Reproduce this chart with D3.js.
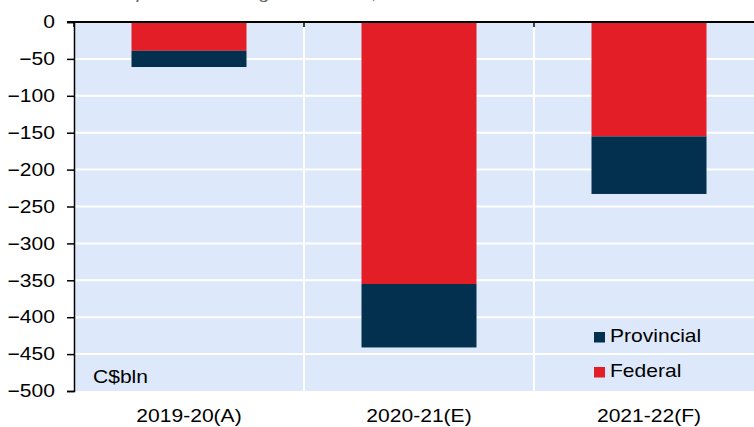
<!DOCTYPE html>
<html>
<head>
<meta charset="utf-8">
<script src="https://cdn.jsdelivr.net/npm/d3@7"></script>
<style>
  body { margin: 0; background: #fff; }
  svg text { font-family: "Liberation Sans", Arial, sans-serif; fill: #000; }
</style>
</head>
<body>
<div id="chart"></div>
<script>
//***************** data *******************/
var categories = ["2019-20(A)", "2020-21(E)", "2021-22(F)"];
var federal = [-39, -355, -155];     // C$bln
var provincial = [-22, -86, -78];    // C$bln
var yTicks = [0, -50, -100, -150, -200, -250, -300, -350, -400, -450, -500];
var seriesNames = ["Provincial", "Federal"];
var seriesColors = {Federal: "#e31e26", Provincial: "#02304e"};

//************* set dimensions ***************/
var W = 754, H = 427;
var left = 74, top0 = 22, bottom = 391, rightEnd = 764;  // plot runs past the window edge
var sx = 1.17;  // text in the source is stretched horizontally
var fs = "18px";

var svg = d3.select("#chart").append("svg")
  .attr("width", W).attr("height", H);

//***************** scales *******************/
var x = d3.scaleBand().domain(categories).range([left, rightEnd])
  .paddingInner(0.5).paddingOuter(0.25);
var y = d3.scaleLinear().domain([0, -500]).range([top0, bottom]);

// stretched text helper
function stext(g, tx, ty, str, anchor) {
  return g.append("text")
    .attr("transform", "translate(" + tx + "," + ty + ") scale(" + sx + ",1)")
    .attr("text-anchor", anchor || "start")
    .style("font-size", fs)
    .text(str);
}

//***************** title (clipped at top, as in the source) *******************/
stext(svg, 25, -1.5, "Federal and provincial budget balances, 2019-20 to 2021-22")
  .style("font-style", "italic").style("fill", "#666").style("font-size", "17px");

//***************** background + grid *******************/
svg.append("rect")
  .attr("x", left).attr("y", top0)
  .attr("width", rightEnd - left).attr("height", bottom - top0)
  .attr("fill", "#dde9fa");

svg.append("g").selectAll("line").data(yTicks.slice(1, -1)).enter().append("line")
  .attr("x1", left).attr("x2", rightEnd)
  .attr("y1", function(d) { return y(d); }).attr("y2", function(d) { return y(d); })
  .attr("stroke", "#fff").attr("stroke-width", 2);

var bounds = categories.slice(1).map(function(c) { return x(c) - x.step() * x.paddingInner() / 2; });
svg.append("g").selectAll("line").data(bounds).enter().append("line")
  .attr("x1", function(d) { return d; }).attr("x2", function(d) { return d; })
  .attr("y1", top0).attr("y2", bottom)
  .attr("stroke", "#fff").attr("stroke-width", 2);

//***************** bars *******************/
var stacked = categories.map(function(c, i) {
  return {cat: c, fed: federal[i], prov: provincial[i]};
});
var bars = svg.append("g");
bars.selectAll("rect.fed").data(stacked).enter().append("rect")
  .attr("x", function(d) { return x(d.cat); })
  .attr("width", x.bandwidth())
  .attr("y", y(0))
  .attr("height", function(d) { return y(d.fed) - y(0); })
  .attr("fill", seriesColors.Federal);
bars.selectAll("rect.prov").data(stacked).enter().append("rect")
  .attr("x", function(d) { return x(d.cat); })
  .attr("width", x.bandwidth())
  .attr("y", function(d) { return y(d.fed); })
  .attr("height", function(d) { return y(d.fed + d.prov) - y(d.fed); })
  .attr("fill", seriesColors.Provincial);

//***************** axes *******************/
var yAxis = svg.append("g")
  .attr("transform", "translate(" + left + ",0)")
  .call(d3.axisLeft(y).tickValues(yTicks).tickSize(7).tickPadding(12).tickFormat(d3.format("d")));
yAxis.attr("font-family", null).attr("font-size", null);
yAxis.select(".domain").attr("stroke", "#000").attr("stroke-width", 1.5);
yAxis.selectAll(".tick line").attr("stroke", "#000").attr("stroke-width", 1.5);
yAxis.selectAll(".tick text")
  .attr("x", -19 / sx)
  .attr("transform", "scale(" + sx + ",1)")
  .style("font-size", fs);

// zero line with category ticks
svg.append("line")
  .attr("x1", left - 7).attr("x2", W)
  .attr("y1", y(0)).attr("y2", y(0))
  .attr("stroke", "#000").attr("stroke-width", 2);
var catTicks = [left].concat(bounds);
svg.append("g").selectAll("line").data(catTicks).enter().append("line")
  .attr("x1", function(d) { return d; }).attr("x2", function(d) { return d; })
  .attr("y1", y(0)).attr("y2", y(0) + 5)
  .attr("stroke", "#000").attr("stroke-width", 1.5);

// category labels
categories.forEach(function(c) {
  stext(svg, x(c) + x.bandwidth() / 2, 422, c, "middle");
});

// unit label
stext(svg, 93, 383, "C$bln");

//***************** legend *******************/
var legend = svg.append("g");
seriesNames.forEach(function(s, i) {
  var by = 342 + i * 35;
  legend.append("rect")
    .attr("x", 594).attr("y", by - 10)
    .attr("width", 11).attr("height", 10.5)
    .attr("fill", seriesColors[s]);
  stext(legend, 610, by, s);
});
</script>
</body>
</html>
